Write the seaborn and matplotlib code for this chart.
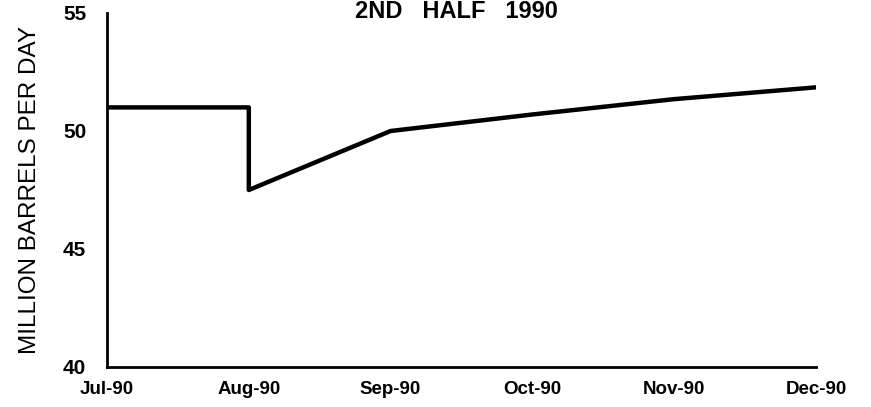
import matplotlib
matplotlib.use("Agg")
import matplotlib.pyplot as plt
import seaborn as sns
import pandas as pd

# Data
month_labels = ["Jul-90", "Aug-90", "Sep-90", "Oct-90", "Nov-90", "Dec-90"]
# positions (month index) of line vertices; Aug appears twice for the sudden drop
point_month = [0, 1, 1, 2, 3, 4, 5]
point_value = [51.0, 51.0, 47.5, 50.0, 50.7, 51.35, 51.85]
y_ticks = [40, 45, 50, 55]

df = pd.DataFrame({"month": point_month, "value": point_value})

sns.set_theme(style="white")
plt.rcParams["font.family"] = ["Liberation Sans", "DejaVu Sans"]
plt.rcParams["text.color"] = "black"
plt.rcParams["axes.labelcolor"] = "black"
plt.rcParams["xtick.color"] = "black"
plt.rcParams["ytick.color"] = "black"

fig = plt.figure(figsize=(8.71, 4.07), dpi=100)
ax = fig.add_axes([107 / 871, 1 - 367 / 407, (816 - 107) / 871, (367 - 13) / 407])

sns.lineplot(data=df, x="month", y="value", sort=False, estimator=None,
             color="black", linewidth=3.2, ax=ax)

ax.set_xlim(0, 5)
ax.set_ylim(40, 55)
ax.set_xticks(range(len(month_labels)))
ax.set_xticklabels(month_labels, fontsize=13.5, fontweight="bold")
ax.set_yticks(y_ticks)
ax.set_yticklabels([str(t) for t in y_ticks], fontsize=15, fontweight="bold")
ax.tick_params(axis="both", direction="in", length=4, width=1.5, color="black")
ax.tick_params(axis="x", pad=10)
ax.tick_params(axis="y", pad=15)
ax.set_xlabel("")
ax.set_ylabel("MILLION BARRELS PER DAY", fontsize=17.5, labelpad=16, color="black")

for s in ["top", "right"]:
    ax.spines[s].set_visible(False)
for s in ["left", "bottom"]:
    ax.spines[s].set_color("black")
    ax.spines[s].set_linewidth(2)

fig.text(0.524, 0.999, "2ND   HALF   1990", ha="center", va="top",
         fontsize=17, fontweight="bold", color="black")

fig.savefig("out.png", dpi=100)
